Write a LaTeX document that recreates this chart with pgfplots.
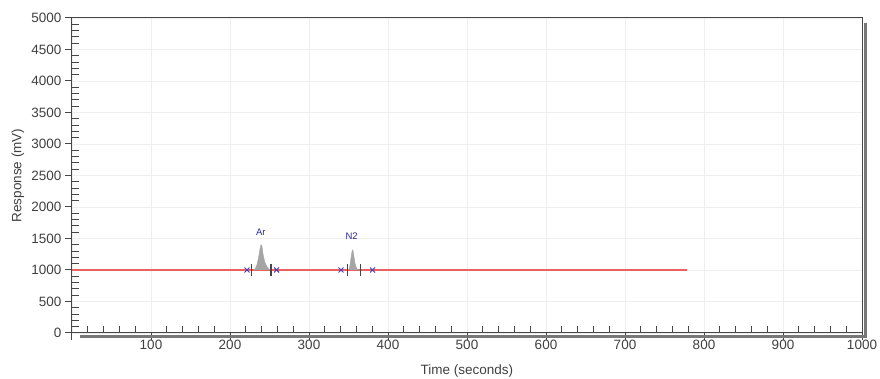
\documentclass[border=0pt]{standalone}
\usepackage{pgfplots}
\pgfplotsset{compat=1.18}
\usepackage{fontspec}
\setmainfont{Liberation Sans}
\definecolor{redline}{RGB}{236,96,96}
\definecolor{peakgray}{RGB}{165,165,165}
\definecolor{lblblue}{RGB}{40,40,150}
\definecolor{xblue}{RGB}{60,60,200}
\definecolor{axgray}{RGB}{70,70,70}
\definecolor{shadow}{RGB}{120,120,120}
\begin{document}
\begin{tikzpicture}
\begin{axis}[
  scale only axis,
  width=790pt, height=315pt,
  xmin=0, xmax=1000, ymin=0, ymax=5000,
  xtick={0,100,...,1000},
  xticklabels={,100,200,300,400,500,600,700,800,900,1000},
  ytick={0,500,...,5000},
  minor x tick num=4,
  minor y tick num=4,
  xtick pos=bottom, ytick pos=left,
  tick align=outside,
  major tick length=7pt,
  minor tick length=-7pt,
  tick style={axgray, line width=1pt},
  grid=major,
  major grid style={gray!13, line width=0.6pt},
  axis line style={axgray, line width=1pt},
  /pgf/number format/assume math mode=true,
  /pgf/number format/1000 sep={},
  ticklabel style={font=\fontsize{13.5}{15}\selectfont, text=black!75},
  xticklabel style={yshift=3pt},
  xlabel={Time (seconds)},
  ylabel={Response (mV)},
  label style={font=\fontsize{13.5}{15}\selectfont, text=black!75},
  xlabel style={at={(rel axis cs:0.5,0)}, anchor=center, yshift=-38pt},
  ylabel style={at={(rel axis cs:0,0.5)}, anchor=center, yshift=54pt},
  clip=false,
]
% baseline
\addplot[redline, line width=2pt] coordinates {(0,1000) (779,1000)};
% Ar peak
\addplot[fill=peakgray, draw=peakgray, line width=0.4pt] coordinates {
  (230,1000) (232,1020) (234,1080) (236,1190) (237.5,1300) (239,1400)
  (240,1395) (241,1330) (242,1240) (244,1130) (246,1070) (248,1035)
  (250,1010) (251,1000)};
% N2 peak
\addplot[fill=peakgray, draw=peakgray, line width=0.4pt] coordinates {
  (350,1000) (351.5,1050) (353,1180) (354.5,1300) (355.5,1320)
  (356.5,1250) (358,1120) (359.5,1050) (361,1015) (363,1000)};
% peak start/end bars
\addplot[only marks, mark=|, mark size=6pt, mark options={axgray, line width=1.3pt}]
  coordinates {(227,1000) (252,1000) (349,1000) (365,1000)};
% blue markers
\addplot[only marks, mark=x, mark size=3.5pt, mark options={xblue, line width=0.9pt}]
  coordinates {(221.5,1000) (259,1000) (340.5,1000) (380.5,1000)};
\node[text=lblblue, font=\fontsize{9.5}{10}\selectfont] at (axis cs:239,1600) {Ar};
\node[text=lblblue, font=\fontsize{9.5}{10}\selectfont] at (axis cs:354,1530) {N2};
% shadows
\draw[shadow, line width=3pt] ([xshift=3pt]rel axis cs:1,0.985) -- ([xshift=3pt, yshift=-5pt]rel axis cs:1,0);
\draw[shadow, line width=3pt] ([xshift=8pt, yshift=-3.5pt]rel axis cs:0,0) -- ([xshift=4.5pt, yshift=-3.5pt]rel axis cs:1,0);
\end{axis}
\pgfresetboundingbox
\path ([shift={(-72pt,-46pt)}]current axis.south west) rectangle ([shift={(18pt,18pt)}]current axis.north east);
\end{tikzpicture}
\end{document}
